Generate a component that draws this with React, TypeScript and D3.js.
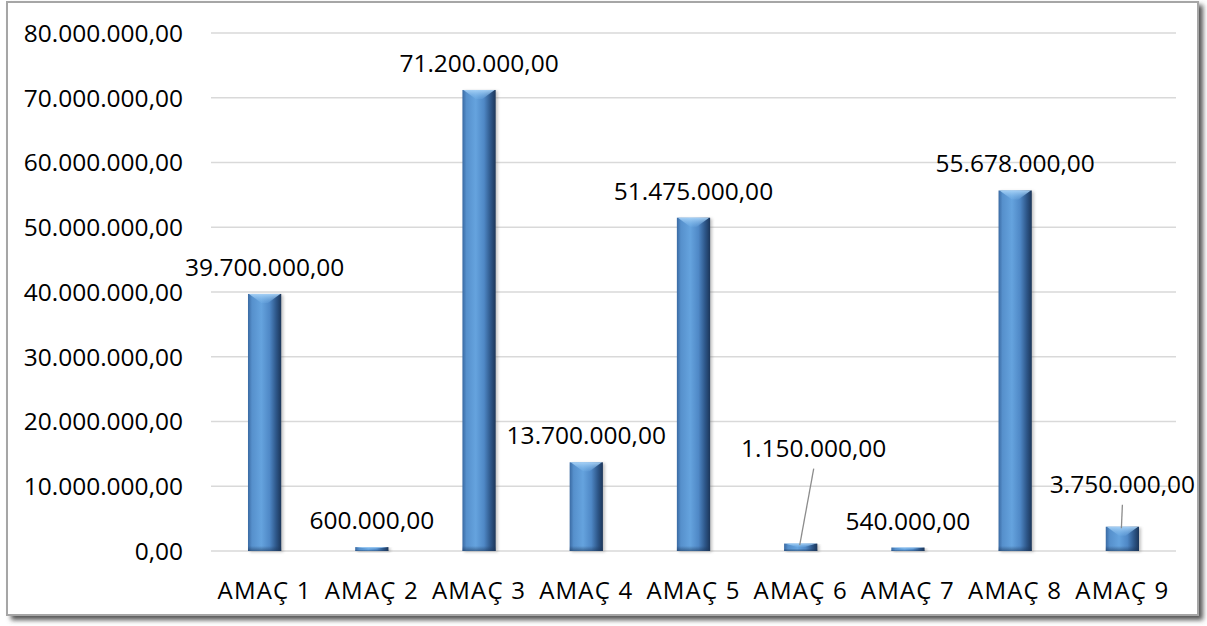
import React from "react";
import * as d3 from "d3";

const categories = ["AMAÇ 1", "AMAÇ 2", "AMAÇ 3", "AMAÇ 4", "AMAÇ 5", "AMAÇ 6", "AMAÇ 7", "AMAÇ 8", "AMAÇ 9"];
const values = [39700000, 600000, 71200000, 13700000, 51475000, 1150000, 540000, 55678000, 3750000];
const yTicks = [0, 10000000, 20000000, 30000000, 40000000, 50000000, 60000000, 70000000, 80000000];

// label adjustments (layout): index -> offset and leader line flag
const labelAdjust: Record<number, { dx: number; dy: number; leader: boolean }> = {
  5: { dx: 13, dy: -69, leader: true },
  8: { dx: 0, dy: -16, leader: true },
};

const W = 1207;
const H = 626;
const FONT = "'Open Sans', 'Noto Sans', sans-serif";
const FS = 24.5;

const trLocale = d3.formatLocale({ decimal: ",", thousands: ".", grouping: [3], currency: ["", ""] });
const fmt = trLocale.format(",.2f");

export default function App() {
  const x = d3.scaleBand<string>().domain(categories).range([211, 1176]).paddingInner(0.69).paddingOuter(0.345);
  const y = d3.scaleLinear().domain([0, 80000000]).range([551, 33]);
  const bw = x.bandwidth();

  return (
    <svg width={W} height={H} style={{ position: "absolute", left: 0, top: 0 }} xmlns="http://www.w3.org/2000/svg">
      <defs>
        <linearGradient id="barG" x1="0" x2="1" y1="0" y2="0">
          <stop offset="0%" stopColor="#3a6aa3" />
          <stop offset="12%" stopColor="#5690cc" />
          <stop offset="40%" stopColor="#65a3de" />
          <stop offset="65%" stopColor="#4f88c6" />
          <stop offset="85%" stopColor="#2d5688" />
          <stop offset="100%" stopColor="#1c3659" />
        </linearGradient>
        <linearGradient id="capG" x1="0" x2="0" y1="0" y2="1">
          <stop offset="0%" stopColor="#a9d3f7" stopOpacity={0.95} />
          <stop offset="100%" stopColor="#7db8ec" stopOpacity={0.2} />
        </linearGradient>
        <linearGradient id="botG" x1="0" x2="0" y1="0" y2="1">
          <stop offset="0%" stopColor="#1c3659" stopOpacity={0} />
          <stop offset="100%" stopColor="#1c3659" stopOpacity={0.55} />
        </linearGradient>
        <filter id="frameShadow" x="-5%" y="-5%" width="110%" height="110%">
          <feGaussianBlur stdDeviation="2.5" />
        </filter>
        <filter id="barShadow" x="-50%" y="-5%" width="200%" height="110%">
          <feGaussianBlur stdDeviation="1.5" />
        </filter>
      </defs>

      {/* frame */}
      <rect x={11} y={5} width={1192} height={615} fill="#555" filter="url(#frameShadow)" />
      <rect x={7} y={2} width={1191} height={613} fill="#ffffff" stroke="#a6a6a6" strokeWidth={2} />

      {/* gridlines */}
      {yTicks.map((t) => (
        <line key={t} x1={211} x2={1176} y1={y(t)} y2={y(t)} stroke="#d9d9d9" strokeWidth={1.5} />
      ))}

      {/* y axis labels */}
      {yTicks.map((t) => (
        <text key={"l" + t} x={183} y={y(t)} dy="0.36em" textAnchor="end" fontFamily={FONT} fontSize={FS} fill="#000">
          {fmt(t)}
        </text>
      ))}

      {/* bars */}
      {categories.map((c, i) => {
        const x0 = x(c)!;
        const top = y(values[i]);
        const h = y(0) - top;
        const capH = Math.min(9, h / 2);
        return (
          <g key={c}>
            <rect x={x0 + 2} y={top + 1} width={bw} height={h} fill="#7a7a7a" opacity={0.45} filter="url(#barShadow)" />
            <rect x={x0} y={top} width={bw} height={h} fill="url(#barG)" />
            <path
              d={`M${x0 + 1},${top} L${x0 + bw - 1},${top} L${x0 + bw * 0.6},${top + capH} L${x0 + bw * 0.4},${top + capH} Z`}
              fill="url(#capG)"
            />
            <rect x={x0} y={y(0) - Math.min(5, h / 3)} width={bw} height={Math.min(5, h / 3)} fill="url(#botG)" />
          </g>
        );
      })}

      {/* data labels */}
      {categories.map((c, i) => {
        const cx = x(c)! + bw / 2;
        const top = y(values[i]);
        const adj = labelAdjust[i] || { dx: 0, dy: 0, leader: false };
        const lx = cx + adj.dx;
        const ly = top - 18 + adj.dy;
        return (
          <g key={"d" + c}>
            {adj.leader && <line x1={lx} y1={ly + 12} x2={cx - 1} y2={top + 1.5} stroke="#8c8c8c" strokeWidth={1.3} />}
            <text x={lx} y={ly} textAnchor="middle" fontFamily={FONT} fontSize={FS} fill="#000">
              {fmt(values[i])}
            </text>
          </g>
        );
      })}

      {/* category labels */}
      {categories.map((c) => (
        <text key={"c" + c} x={x(c)! + bw / 2} y={599} textAnchor="middle" fontFamily={FONT} fontSize={24} letterSpacing={1.2} fill="#000">
          {c}
        </text>
      ))}
    </svg>
  );
}
